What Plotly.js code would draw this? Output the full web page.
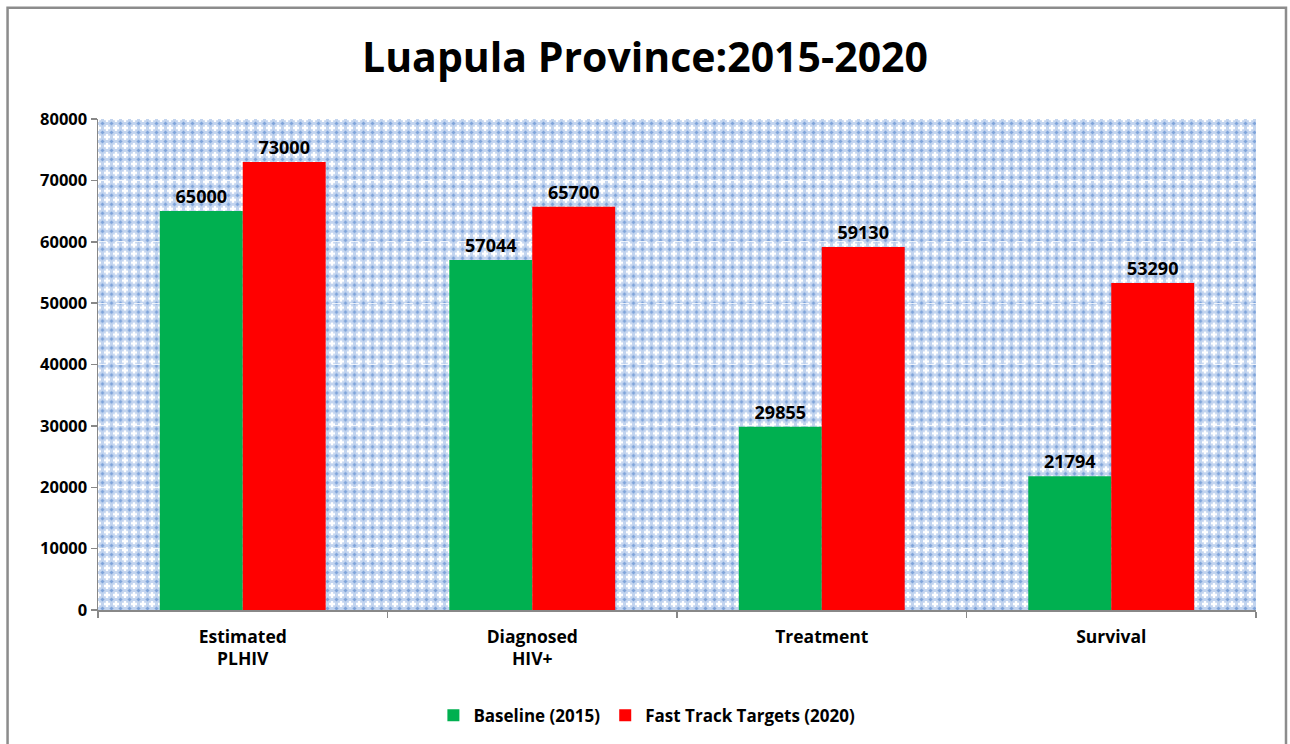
<!DOCTYPE html>
<html>
<head>
<meta charset="utf-8">
<script src="https://cdn.plot.ly/plotly-3.0.1.min.js"></script>
<style>
html,body{margin:0;padding:0;background:#fff;}
#chart{width:1290px;height:744px;}
</style>
</head>
<body>
<div id="chart"></div>
<script>
var categories = ["Estimated<br>PLHIV", "Diagnosed<br>HIV+", "Treatment", "Survival"];
var baseline2015 = [65000, 57044, 29855, 21794];
var targets2020 = [73000, 65700, 59130, 53290];
var seriesNames = ["Baseline (2015)", "Fast Track Targets (2020)"];
var yTicks = [0, 10000, 20000, 30000, 40000, 50000, 60000, 70000, 80000];

var cross = function (x, y) { return "M" + (x - 3) + " " + y + "h6M" + x + " " + (y - 3) + "v6"; };
var svg = "<svg xmlns='http://www.w3.org/2000/svg' width='1158' height='492'>" +
  "<defs><pattern id='p' width='9' height='9' patternUnits='userSpaceOnUse'>" +
  "<rect width='9' height='9' fill='#c2d4ef'/>" +
  "<path d='M4.5 2.4L6.6 4.5L4.5 6.6L2.4 4.5Z' fill='#7fa4da'/>" +
  "<path d='" + cross(0, 0) + cross(9, 0) + cross(0, 9) + cross(9, 9) + "' stroke='#ffffff' stroke-width='2.3'/>" +
  "</pattern></defs><rect width='100%' height='100%' fill='url(#p)'/></svg>";
var bgSrc = "data:image/svg+xml;charset=utf-8," + encodeURIComponent(svg);

var font = "'Open Sans', 'DejaVu Sans', sans-serif";

var traces = [
  {
    type: "bar", name: seriesNames[0], x: categories, y: baseline2015,
    marker: {color: "#00b050"},
    text: baseline2015.map(String), textposition: "outside", cliponaxis: false,
    textfont: {family: font, size: 18, color: "#000", weight: "bold"},
    hoverinfo: "y"
  },
  {
    type: "bar", name: seriesNames[1], x: categories, y: targets2020,
    marker: {color: "#ff0000"},
    text: targets2020.map(String), textposition: "outside", cliponaxis: false,
    textfont: {family: font, size: 18, color: "#000", weight: "bold"},
    hoverinfo: "y"
  }
];

var layout = {
  width: 1290, height: 744,
  margin: {l: 98, r: 34, t: 119, b: 133},
  paper_bgcolor: "#ffffff",
  plot_bgcolor: "#c2d4ef",
  barmode: "group",
  bargap: 0.427,
  bargroupgap: 0,
  showlegend: true,
  title: {
    text: "<b>Luapula Province:2015-2020</b>",
    font: {family: font, size: 41, color: "#000"},
    x: 0.5, xanchor: "center", y: 0.922, yanchor: "middle"
  },
  font: {family: font, color: "#000"},
  xaxis: {
    type: "category",
    tickson: "boundaries",
    ticks: "outside", ticklen: 6, tickcolor: "#888", tickwidth: 1.5,
    showline: true, linecolor: "#888", linewidth: 1.5,
    showgrid: false,
    ticklabelstandoff: 10,
    tickfont: {family: font, size: 17.5, color: "#000", weight: "bold"}
  },
  yaxis: {
    range: [0, 80000],
    tickvals: yTicks,
    ticktext: yTicks.map(String),
    ticks: "outside", ticklen: 6, tickcolor: "#888", tickwidth: 1.5,
    showline: true, linecolor: "#888", linewidth: 1.5,
    showgrid: true, gridcolor: "rgba(255,255,255,0.8)", gridwidth: 1, griddash: "dash",
    zeroline: false,
    tickfont: {family: font, size: 16.5, color: "#000", weight: "bold"}
  },
  legend: {
    orientation: "h", x: 0.474, xanchor: "center", y: -0.213, yanchor: "middle",
    font: {family: font, size: 17, color: "#000", weight: "bold"},
    itemwidth: 30, traceorder: "normal"
  },
  images: [{
    source: bgSrc, xref: "paper", yref: "paper", x: 0, y: 1, sizex: 1, sizey: 1,
    xanchor: "left", yanchor: "top", sizing: "stretch", layer: "below"
  }],
  shapes: [{
    type: "rect", xref: "paper", yref: "paper",
    x0: -0.0781, x1: 1.0259, y0: -0.29, y1: 1.2266,
    line: {color: "#8c8c8c", width: 2.5}, fillcolor: "rgba(0,0,0,0)", layer: "below"
  }]
};

Plotly.newPlot("chart", traces, layout, {displayModeBar: false, staticPlot: true});
</script>
</body>
</html>
